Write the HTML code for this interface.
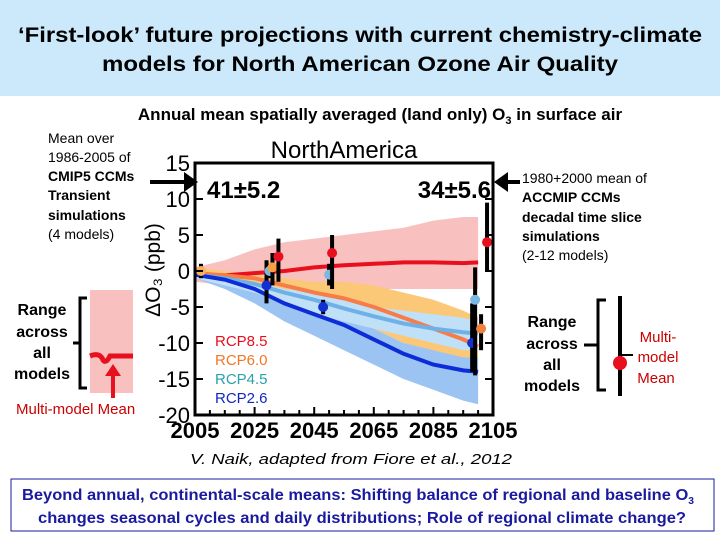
<!DOCTYPE html>
<html><head><meta charset="utf-8"><style>
html,body{margin:0;padding:0;background:#fff;}
svg{display:block;font-family:"Liberation Sans",Arial,sans-serif;}
</style></head><body>
<svg id="s" width="720" height="540" viewBox="0 0 720 540" xmlns="http://www.w3.org/2000/svg">
<rect x="0" y="0" width="720" height="96" fill="#cbe9fb"/>
<text x="18" y="42" font-size="21" font-weight="bold" textLength="684" lengthAdjust="spacingAndGlyphs">‘First-look’ future projections with current chemistry-climate</text>
<text x="102" y="71" font-size="21" font-weight="bold" textLength="516" lengthAdjust="spacingAndGlyphs">models for North American Ozone Air Quality</text>
<text x="380" y="120" font-size="17" font-weight="bold" text-anchor="middle">Annual mean spatially averaged (land only) O<tspan font-size="11" dy="4">3</tspan><tspan dy="-4"> in surface air</tspan></text>
<g font-size="14">
<text x="48" y="143">Mean over</text><text x="48" y="162">1986-2005 of</text>
<text x="48" y="181" font-weight="bold">CMIP5 CCMs</text><text x="48" y="200" font-weight="bold">Transient</text>
<text x="48" y="220" font-weight="bold">simulations</text><text x="48" y="239">(4 models)</text>
</g>
<line x1="150" y1="182" x2="190" y2="182" stroke="#000" stroke-width="4"/>
<polygon points="198,182 184,172 184,192" fill="#000"/>
<g font-size="14">
<text x="522" y="183">1980+2000 mean of</text><text x="522" y="202" font-weight="bold">ACCMIP CCMs</text>
<text x="522" y="222" font-weight="bold">decadal time slice</text><text x="522" y="241" font-weight="bold">simulations</text>
<text x="522" y="260">(2-12 models)</text>
</g>
<line x1="502" y1="182" x2="520" y2="182" stroke="#000" stroke-width="4"/>
<polygon points="494,182 508,172 508,192" fill="#000"/>
<rect x="90" y="290" width="43" height="103" fill="#f9c0c0"/>
<path d="M90 356 Q100 352 103 360 Q106 364 110 356 L133 356" stroke="#e8101e" stroke-width="5" fill="none"/>
<path d="M87 298 L80 298 L80 388 L87 388 M80 343 L73 343" stroke="#000" stroke-width="3" fill="none"/>
<g font-size="16" font-weight="bold" text-anchor="middle"><text x="42" y="315">Range</text><text x="42" y="337">across</text><text x="42" y="358">all</text><text x="42" y="379">models</text></g>
<line x1="113" y1="398" x2="113" y2="372" stroke="#e8101e" stroke-width="4"/><polygon points="113,364 105,376 121,376" fill="#e8101e"/>
<text x="16" y="414" font-size="15" fill="#cc0000">Multi-model Mean</text>
<g font-size="16" font-weight="bold" text-anchor="middle"><text x="552" y="327">Range</text><text x="552" y="349">across</text><text x="552" y="370">all</text><text x="552" y="391">models</text></g>
<path d="M606 300 L598 300 L598 390 L606 390 M598 345 L584 345" stroke="#000" stroke-width="3" fill="none"/>
<line x1="620" y1="296" x2="620" y2="396" stroke="#000" stroke-width="4"/>
<circle cx="620" cy="363" r="7" fill="#e8101e"/><line x1="620" y1="355" x2="633" y2="355" stroke="#000" stroke-width="2"/>
<g font-size="15" fill="#cc0000" text-anchor="middle"><text x="658" y="342">Multi-</text><text x="658" y="362">model</text><text x="656" y="383">Mean</text></g>
<text x="190" y="464" font-size="15" font-style="italic" textLength="322" lengthAdjust="spacingAndGlyphs">V. Naik, adapted from  Fiore et al., 2012</text>
<rect x="11" y="479" width="703" height="52" fill="#fff" stroke="#1a1aa0" stroke-width="1"/>
<text x="22" y="500" font-size="16" font-weight="bold" fill="#1a1aa0" textLength="672" lengthAdjust="spacingAndGlyphs">Beyond annual, continental-scale means: Shifting balance of regional and baseline O<tspan font-size="10" dy="4">3</tspan></text>
<text x="38" y="523" font-size="16" font-weight="bold" fill="#1a1aa0" textLength="648" lengthAdjust="spacingAndGlyphs">changes seasonal cycles and daily distributions; Role of regional climate change?</text>
<g id="chart"></g>
</svg>
<script>
const years=[2005,2015,2025,2035,2045,2055,2065,2075,2085,2095,2100];
const hi85=[0.5,1.5,3,4,4.5,5,5.5,6,7,7.5,7.5];
const lo85=[-1.5,-2,-2,-2.5,-2.5,-2.5,-2.5,-2.5,-2.5,-2.5,-2.5];
const hi60=[0.5,0,-0.5,-1,-1.5,-1.5,-2,-3,-4,-5.5,-6.5];
const lo60=[-1,-2,-3,-4,-5,-6.5,-8,-10,-11.5,-13,-15];
const hi26=[-0.5,-1.5,-3,-3.5,-5,-6,-8,-10,-11,-12,-12];
const lo26=[-1,-2.5,-4.5,-7,-9,-11,-13,-15,-16.5,-18,-18.5];
const hi45=[-0.5,-1,-1.5,-2.5,-3,-4,-5,-5.5,-6,-6.5,-7];
const lo45=[-1,-2,-3,-4.5,-6,-7,-8,-9,-10,-11,-11];
const m85=[-0.5,-0.6,-0.3,0,0.5,0.8,1,1.2,1.2,1.1,1.2];
const m60=[-0.3,-0.6,-1,-2,-3,-3.8,-5,-6.5,-8,-9.5,-10.5];
const m45=[-0.5,-1,-1.8,-3,-4,-5.2,-6.3,-7.3,-8,-8.5,-8.7];
const m26=[-0.5,-1.2,-2.5,-4.5,-6,-7.5,-9.5,-11.5,-13,-13.8,-14];
const ptYears=[2007,2029,2030,2031,2033,2048,2050,2051,2098,2099,2101,2103];
const ptMean=[0,-2,0,0.5,2,-5,-0.5,2.5,-10,-4,-8,4];
const ptLow=[-1,-4.5,-1,-2,-1.5,-6,-2,-2.5,-14,-14.5,-11,0];
const ptHigh=[1,1.5,1,2.5,4.5,-4,1,5,-4.5,0.5,-6,9.5];
const ptColor=["#f7b060","#1030d0","#7ab8e0","#f7a040","#e8101e","#1030d0","#7ab8e0","#e8101e","#1030d0","#7ab8e0","#f08040","#e8101e"];
const yTicks=[15,10,5,0,-5,-10,-15,-20];
const yTickLabels=["15","10","5","0","-5","-10","-15","-20"];
const xTicks=[2005,2025,2045,2065,2085,2105];
const xTickLabels=["2005","2025","2045","2065","2085","2105"];
const X0=195,X1=493,Y0=163,Y1=415;
const xs=v=>X0+(v-2005)/100*(X1-X0);
const ys=v=>Y0+(15-v)/35*(Y1-Y0);
const NS="http://www.w3.org/2000/svg";
const g=document.getElementById('chart');
function mk(t,a){const e=document.createElementNS(NS,t);for(const k in a)e.setAttribute(k,a[k]);g.appendChild(e);return e;}
function band(hi,lo,col,name){
  let d="M"+years.map((y,i)=>xs(y)+" "+ys(hi[i])).join(" L");
  d+=" L"+years.map((y,i)=>xs(y)+" "+ys(lo[i])).reverse().join(" L")+" Z";
  const e=mk('path',{d:d,fill:col});
  
  
}
function line(m,col,name){
  const e=mk('path',{d:"M"+years.map((y,i)=>xs(y)+" "+ys(m[i])).join(" L"),stroke:col,'stroke-width':4,fill:'none'});
  
  
}
band(hi85,lo85,"#f9c0c0","rcp85-band");
band(hi60,lo60,"#fbc878","rcp60-band");
band(hi26,lo26,"#9cc4f2","rcp26-band");
band(hi45,lo45,"#bfe0f6","rcp45-band");
line(m85,"#e8101e","rcp85-mean");
line(m60,"#f77c48","rcp60-mean");
line(m45,"#6fb0e6","rcp45-mean");
line(m26,"#0c2cd8","rcp26-mean");
ptYears.forEach((y,i)=>{
  const b=mk('line',{x1:xs(y),x2:xs(y),y1:ys(ptLow[i]),y2:ys(ptHigh[i]),stroke:'#000','stroke-width':4});
  
  
  const c=mk('circle',{cx:xs(y),cy:ys(ptMean[i]),r:5,fill:ptColor[i]});
  
  
});
const fr=mk('rect',{x:X0,y:Y0,width:X1-X0,height:Y1-Y0,fill:'none',stroke:'#000','stroke-width':3});


yTicks.forEach((v,i)=>{
  mk('line',{x1:X0,x2:X0+8,y1:ys(v),y2:ys(v),stroke:'#000','stroke-width':2});
  mk('line',{x1:X1,x2:X1-8,y1:ys(v),y2:ys(v),stroke:'#000','stroke-width':2});
  const t=mk('text',{x:X0-5,y:ys(v)+8,'font-size':22,'text-anchor':'end'});
  t.textContent=yTickLabels[i];
  
  
});
for(let yr=2010;yr<2105;yr+=5){mk('line',{x1:xs(yr),x2:xs(yr),y1:Y1,y2:Y1-(yr%20==5?8:5),stroke:'#000','stroke-width':2});}
xTicks.forEach((v,i)=>{
  const t=mk('text',{x:xs(v),y:Y1+23,'font-size':22,'font-weight':'bold','text-anchor':'middle'});
  t.textContent=xTickLabels[i];
  
  
});
const ttl=mk('text',{x:344,y:158,'font-size':24,'text-anchor':'middle'});ttl.textContent="NorthAmerica";


const yl=mk('text',{x:0,y:0,'font-size':21,'text-anchor':'middle',transform:'translate(160,270) rotate(-90)'});yl.textContent="ΔO₃ (ppb)";


const a1=mk('text',{x:207,y:198,'font-size':24,'font-weight':'bold'});a1.textContent="41±5.2";


const a2=mk('text',{x:491,y:198,'font-size':24,'font-weight':'bold','text-anchor':'end'});a2.textContent="34±5.6";


const leg=[["RCP8.5","#e8101e"],["RCP6.0","#f07828"],["RCP4.5","#2aa0b0"],["RCP2.6","#1028c0"]];
leg.forEach((l,i)=>{
  const t=mk('text',{x:215,y:346+i*19,'font-size':15,fill:l[1]});t.textContent=l[0];
  
  
});
</script>
</body></html>
